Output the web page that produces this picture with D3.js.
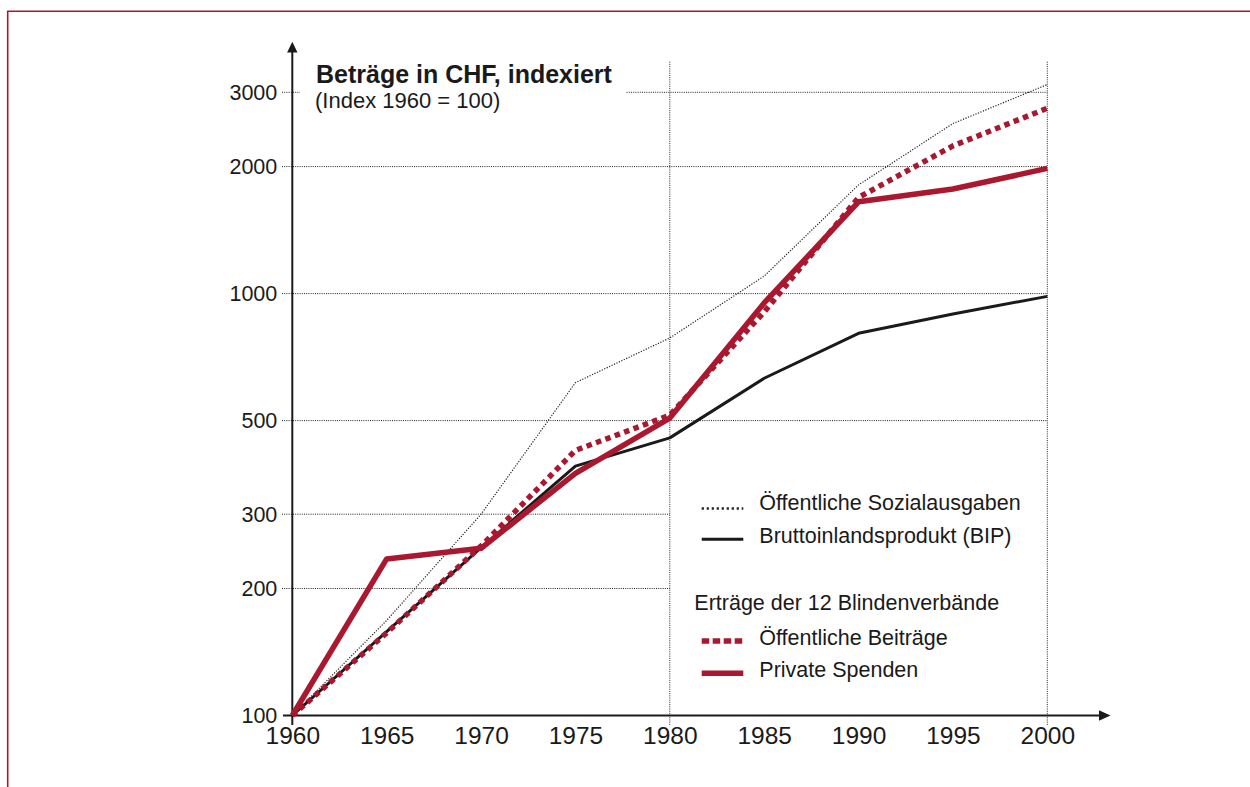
<!DOCTYPE html>
<html>
<head>
<meta charset="utf-8">
<script src="https://cdn.jsdelivr.net/npm/d3@7"></script>
<style>
  body { margin: 0; background: #fff; }
  svg { display: block; font-family: "Liberation Sans", Arial, sans-serif; }
</style>
</head>
<body>
<div id="container"></div>
<script>
/* DATA */
const years = [1960, 1965, 1970, 1975, 1980, 1985, 1990, 1995, 2000];
const sozialausgaben = [100, 168, 300, 615, 785, 1100, 1810, 2530, 3130];
const bip = [100, 158, 250, 390, 455, 630, 805, 895, 985];
const oeffBeitraege = [100, 157, 252, 425, 515, 905, 1690, 2240, 2750];
const privSpenden = [100, 235, 249, 375, 507, 950, 1650, 1770, 1980];

const yTicks = [100, 200, 300, 500, 1000, 2000, 3000];
const shortGridTicks = [200, 300];   // these stop at 1980 to leave room for the legend
const xGridYears = [1980, 2000];

const titleText = "Beträge in CHF, indexiert";
const subtitleText = "(Index 1960 = 100)";
const legendHeader = "Erträge der 12 Blindenverbände";

/* CONSTANTS */
const width = 1250, height = 787;
const x0 = 292.3, x1 = 1047.3, yBase = 715.5, yTop = 92.3;
const red = "#a9182f", ink = "#1a1a1a";

const xScale = d3.scaleLinear().domain([1960, 2000]).range([x0, x1]);
const yScale = d3.scaleLog().domain([100, 3000]).range([yBase, yTop]);

const series = [
  {name: "Öffentliche Sozialausgaben", values: sozialausgaben, color: "#222", w: 1.2, dash: "1.2,1.5"},
  {name: "Bruttoinlandsprodukt (BIP)", values: bip, color: ink, w: 3, dash: null},
  {name: "Öffentliche Beiträge", values: oeffBeitraege, color: red, w: 5.5, dash: "5.5,4.5"},
  {name: "Private Spenden", values: privSpenden, color: red, w: 5.5, dash: null}
];

const svg = d3.select("#container").append("svg")
  .attr("width", width)
  .attr("height", height);

// frame (top + left edge in red)
svg.append("path")
  .attr("d", `M7.7,${height} V11.3 H${width}`)
  .attr("fill", "none")
  .attr("stroke", red)
  .attr("stroke-width", 1.6);

/* TITLE */
const title = svg.append("text")
  .attr("x", 316).attr("y", 82.5)
  .attr("font-size", 25).attr("font-weight", "bold")
  .attr("fill", ink)
  .text(titleText);
svg.append("text")
  .attr("x", 315).attr("y", 107.5)
  .attr("font-size", 22)
  .attr("fill", ink)
  .text(subtitleText);
const tb = title.node().getBBox();

/* GRID */
const grid = svg.append("g")
  .attr("stroke", "#222")
  .attr("stroke-width", 1)
  .attr("stroke-dasharray", "1,1.2")
  .attr("fill", "none");

yTicks.filter(d => d > 100).forEach(d => {
  const yy = yScale(d);
  const xEnd = shortGridTicks.includes(d) ? xScale(1980) : x1;
  if (d === 3000) {
    grid.append("line").attr("x1", 282).attr("x2", tb.x - 16).attr("y1", yy).attr("y2", yy);
    grid.append("line").attr("x1", tb.x + tb.width + 14).attr("x2", xEnd).attr("y1", yy).attr("y2", yy);
  } else {
    grid.append("line").attr("x1", 282).attr("x2", xEnd).attr("y1", yy).attr("y2", yy);
  }
});

grid.selectAll("line.v")
  .data(xGridYears)
  .join("line")
  .attr("class", "v")
  .attr("x1", d => xScale(d)).attr("x2", d => xScale(d))
  .attr("y1", 61.7).attr("y2", yBase + 9.5);

/* AXES */
const yAxis = svg.append("g")
  .attr("transform", `translate(${x0},0)`)
  .call(d3.axisLeft(yScale).tickValues(yTicks).tickFormat(d3.format("d")).tickSize(0).tickPadding(15));
const xAxis = svg.append("g")
  .attr("transform", `translate(0,${yBase})`)
  .call(d3.axisBottom(xScale).tickValues(years).tickFormat(d3.format("d")).tickSize(0).tickPadding(11.5));
[yAxis, xAxis].forEach(g => {
  g.select(".domain").remove();
  g.selectAll("text").attr("fill", ink).attr("font-family", "Liberation Sans, Arial, sans-serif");
});
yAxis.selectAll("text").attr("font-size", 21.5);
xAxis.selectAll("text").attr("font-size", 24.5);

const axes = svg.append("g").attr("stroke", ink).attr("stroke-width", 2);
axes.append("line").attr("x1", x0).attr("x2", x0).attr("y1", yBase + 9.5).attr("y2", 50);
axes.append("line").attr("x1", 283).attr("x2", 1100).attr("y1", yBase).attr("y2", yBase);
svg.append("path")
  .attr("d", `M${x0},41.7 L${x0 - 5.2},52.5 L${x0 + 5.2},52.5 Z`)
  .attr("fill", ink);
svg.append("path")
  .attr("d", `M1110.5,${yBase} L1099,${yBase - 5.2} L1099,${yBase + 5.2} Z`)
  .attr("fill", ink);

/* LINES */
const line = d3.line()
  .x((d, i) => xScale(years[i]))
  .y(d => yScale(d));

svg.append("g")
  .selectAll("path")
  .data(series)
  .join("path")
  .attr("d", d => line(d.values))
  .attr("fill", "none")
  .attr("stroke", d => d.color)
  .attr("stroke-width", d => d.w)
  .attr("stroke-dasharray", d => d.dash)
  .attr("stroke-linejoin", "round");

/* LEGEND */
const legend = svg.append("g").attr("fill", ink).attr("font-size", 21.5);
const rows = [
  {s: series[0], base: 510, dash: "2.2,2.8", w: 2.6},
  {s: series[1], base: 543.3, dash: null, w: 3},
  {s: series[2], base: 645, dash: "7.5,3.5", w: 5.5},
  {s: series[3], base: 677.3, dash: null, w: 5.5}
];
rows.forEach(r => {
  const ly = r === rows[0] ? r.base - 1.5 : r.base - 4;
  legend.append("line")
    .attr("x1", 701.7).attr("x2", 743.3)
    .attr("y1", ly).attr("y2", ly)
    .attr("stroke", r.s.color)
    .attr("stroke-width", r.w)
    .attr("stroke-dasharray", r.dash);
  legend.append("text")
    .attr("x", 759.3).attr("y", r.base)
    .text(r.s.name);
});
legend.append("text")
  .attr("x", 694.3).attr("y", 610)
  .text(legendHeader);
</script>
</body>
</html>
